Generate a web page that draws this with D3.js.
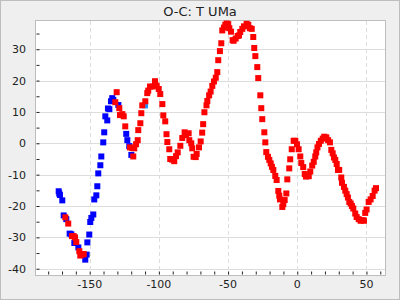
<!DOCTYPE html>
<html>
<head>
<meta charset="utf-8">
<script src="https://cdn.jsdelivr.net/npm/d3@7"></script>
<style>
  body { margin: 0; background: #fff; }
  svg { display: block; font-family: "DejaVu Sans", sans-serif; }
</style>
</head>
<body>
<svg id="chart" width="400" height="300"></svg>
<script>
var title = "O-C: T UMa";

// blue points: [epoch (x1000), O-C]
var blueX = [-172.4, -172.0, -171.5, -169.8, -168.8, -166.9, -164.5, -163.3, -161.1, -158.2,
  -153.2, -152.2, -151.7, -150.3, -149.6, -148.8, -147.4, -146.7, -145.2, -144.5,
  -143.8, -142.3, -141.6, -140.2, -139.5, -138.7, -137.3, -136.8, -135.8, -134.6,
  -133.7, -132.9, -129.3, -123.6, -122.8, -121.4, -119.9];
var blueY = [-15.3, -16.0, -16.5, -18.2, -23.0, -24.2, -28.8, -29.0, -31.8, -33.2,
  -37.1, -35.5, -31.6, -29.1, -25.1, -23.8, -22.7, -17.9, -16.6, -13.7,
  -9.6, -7.0, -4.2, 0.3, 3.5, 8.6, 7.3, 11.1, 10.9, 13.4,
  14.4, 13.8, 12.2, 3.0, 1.0, -0.9, -3.7];

var lightX = [-110.0];
var lightY = [12.1];

var redX = [-167.6, -165.5, -162.8, -161.6, -160.6, -159.7, -157.5, -156.8, -155.1, -154.3,
  -131.5, -130.5, -128.6, -128.1, -126.4, -125.4, -124.3, -120.9, -119.2, -118.5,
  -117.8, -116.5, -115.3, -114.9, -113.4, -112.7, -112.0, -109.8, -108.4, -107.7,
  -106.4, -104.5, -102.8, -101.6, -100.1, -99.0, -97.5, -96.8, -95.4, -94.5,
  -93.9, -92.5, -91.8, -90.5, -88.9, -87.6, -86.4, -84.5, -83.1, -81.4,
  -80.4, -78.5, -78.0, -76.6, -75.9, -74.9, -73.4, -72.7, -71.0, -69.8,
  -68.7, -68.0, -67.1, -65.6, -65.0, -63.7, -62.6, -61.4, -60.2, -58.9,
  -57.8, -57.1, -55.9, -54.9, -54.2, -53.0, -52.0, -51.0, -49.9, -49.1,
  -47.9, -46.7, -46.0, -44.5, -43.1, -42.1, -41.2, -39.7, -38.5, -36.6,
  -35.4, -34.2, -32.9, -31.8, -31.1, -30.3, -28.9, -28.2, -26.7, -26.0,
  -25.3, -23.8, -23.1, -22.4, -21.2, -20.2, -19.2, -18.3, -17.3, -15.9,
  -14.9, -13.7, -13.0, -12.5, -10.8, -10.1, -9.1, -7.9, -7.2, -5.8,
  -5.1, -4.0, -2.6, -1.4, -0.2, 1.0, 2.2, 2.9, 4.3, 5.4,
  6.3, 8.3, 9.4, 10.8, 11.9, 13.0, 13.7, 14.6, 15.7, 17.0,
  18.4, 19.5, 21.0, 22.3, 23.6, 24.6, 25.6, 26.5, 27.5, 28.5,
  29.4, 30.3, 31.8, 32.3, 33.7, 34.7, 35.7, 36.6, 37.6, 38.6,
  39.5, 40.5, 41.9, 42.9, 44.4, 45.8, 47.3, 48.2, 49.1, 50.1,
  51.6, 53.0, 54.5, 55.9, 56.9];
var redY = [-23.6, -25.6, -29.6, -29.6, -30.0, -31.5, -34.4, -35.8, -35.5, -35.3,
  13.1, 16.3, 11.2, 9.0, 9.3, 8.6, 5.4, -1.3, -1.5, -4.2,
  -1.6, -0.3, 1.0, 4.2, 6.4, 9.6, 12.1, 13.4, 16.0, 16.8,
  18.1, 18.1, 19.8, 18.4, 17.3, 15.7, 12.5, 8.9, 7.0, 2.9,
  0.4, -1.9, -5.0, -5.2, -5.7, -4.1, -2.9, -0.8, 1.7, 3.5,
  2.6, 3.2, 1.0, 0.0, -1.6, -4.3, -4.4, -3.4, -1.3, 0.6,
  3.4, 6.1, 9.9, 12.1, 13.5, 15.3, 16.5, 18.3, 19.7, 20.9,
  22.7, 26.5, 29.4, 31.9, 36.0, 36.9, 37.8, 38.2, 38.0, 36.7,
  35.6, 32.9, 32.7, 33.4, 34.2, 34.4, 35.5, 36.5, 37.3, 38.1,
  37.8, 36.7, 36.5, 33.9, 30.4, 27.8, 24.3, 20.8, 15.3, 11.2,
  7.7, 3.5, 0.3, -2.8, -4.3, -5.3, -6.4, -7.5, -8.5, -10.4,
  -11.7, -15.2, -16.7, -17.9, -20.3, -19.4, -18.1, -16.0, -11.5, -8.0,
  -5.1, -1.9, 0.8, 0.8, -0.3, -1.9, -4.2, -6.3, -7.6, -9.8,
  -10.6, -10.5, -9.0, -7.1, -5.9, -4.2, -2.9, -1.3, -0.2, 0.8,
  1.5, 2.1, 1.9, 1.0, 0.3, -2.1, -3.2, -4.5, -5.3, -6.6,
  -8.5, -8.5, -10.9, -12.6, -13.9, -15.1, -16.2, -17.3, -18.7, -19.2,
  -20.0, -20.8, -22.4, -23.5, -24.2, -24.7, -24.5, -24.7, -22.2, -21.1,
  -18.7, -17.9, -16.8, -15.1, -14.3];

var xTicks = [-150, -100, -50, 0, 50];
var yTicks = [-40, -30, -20, -10, 0, 10, 20, 30];

var svg = d3.select("#chart");
var width = +svg.attr("width");
var height = +svg.attr("height");

var plotL = 36, plotR = 385, plotT = 21, plotB = 275;

var x = d3.scaleLinear().domain([-188.8, 63.4]).range([plotL, plotR]);
var y = d3.scaleLinear().domain([-42, 39]).range([plotB, plotT]);

// background
svg.append("rect").attr("x", 0.5).attr("y", 0.5).attr("width", width - 1).attr("height", height - 1)
  .attr("fill", "#efefef").attr("stroke", "#bdbdbd");

svg.append("rect").attr("x", plotL).attr("y", plotT).attr("width", plotR - plotL).attr("height", plotB - plotT)
  .attr("fill", "#fff");

// grid
svg.append("g").selectAll("line").data(yTicks).enter().append("line")
  .attr("x1", plotL).attr("x2", plotR)
  .attr("y1", function(d){ return Math.round(y(d)) + 0.5; })
  .attr("y2", function(d){ return Math.round(y(d)) + 0.5; })
  .attr("stroke", "#dddddd");

svg.append("g").selectAll("line").data(xTicks).enter().append("line")
  .attr("y1", plotT).attr("y2", plotB)
  .attr("x1", function(d){ return Math.round(x(d)) + 0.5; })
  .attr("x2", function(d){ return Math.round(x(d)) + 0.5; })
  .attr("stroke", "#dddddd").attr("stroke-dasharray", "4,3");

// axes, ticks inside
var xAxis = d3.axisTop(x).tickValues(d3.range(-180, 61, 10)).tickSize(3).tickFormat("");
var yAxis = d3.axisRight(y).tickValues(d3.range(-40, 36, 5)).tickSize(3).tickFormat("");

var gx = svg.append("g").attr("transform", "translate(0," + (plotB - 0.5) + ")").call(xAxis);
var gy = svg.append("g").attr("transform", "translate(" + (plotL + 0.5) + ",0)").call(yAxis);
gx.select(".domain").remove();
gy.select(".domain").remove();
gx.selectAll("line").attr("stroke", "#222");
gy.selectAll("line").attr("stroke", "#222");

// labels
svg.append("g").selectAll("text").data(xTicks).enter().append("text")
  .attr("x", function(d){ return x(d); }).attr("y", 288)
  .attr("text-anchor", "middle").attr("font-size", 11).attr("fill", "#222")
  .text(function(d){ return d; });

svg.append("g").selectAll("text").data(yTicks).enter().append("text")
  .attr("x", 26).attr("y", function(d){ return y(d) + 4; })
  .attr("text-anchor", "end").attr("font-size", 11).attr("fill", "#222")
  .text(function(d){ return d; });

// plot frame
svg.append("rect").attr("x", plotL - 0.5).attr("y", plotT - 0.5)
  .attr("width", plotR - plotL + 1).attr("height", plotB - plotT + 1)
  .attr("fill", "none").attr("stroke", "#bdbdbd");

svg.append("text").attr("x", width / 2).attr("y", 16)
  .attr("text-anchor", "middle").attr("font-size", 13).attr("fill", "#222")
  .text(title);

function drawSeries(xs, ys, color){
  var pts = xs.map(function(v, i){ return {x: v, y: ys[i]}; });
  svg.append("g").selectAll("rect").data(pts).enter().append("rect")
    .attr("x", function(d){ return x(d.x) - 3; })
    .attr("y", function(d){ return y(d.y) - 3; })
    .attr("width", 6).attr("height", 6)
    .attr("fill", color);
}

drawSeries(blueX, blueY, "#0000ff");
drawSeries(lightX, lightY, "#1e90ff");
drawSeries(redX, redY, "#ff0000");
</script>
</body>
</html>
